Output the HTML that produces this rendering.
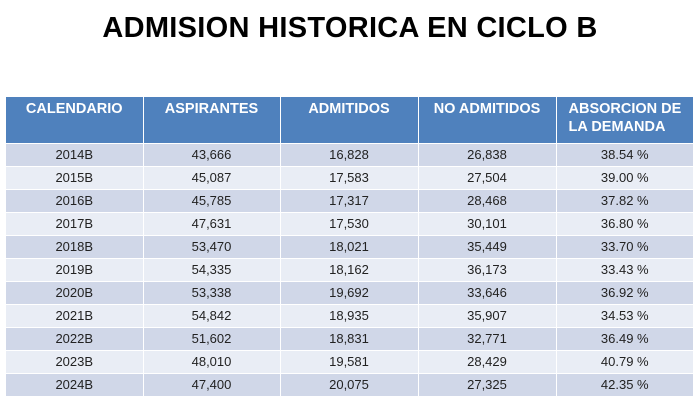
<!DOCTYPE html>
<html><head><meta charset="utf-8"><style>
body{margin:0;width:700px;height:410px;background:#fff;font-family:"Liberation Sans",sans-serif;position:relative;overflow:hidden}
h1{position:absolute;top:12px;left:0;width:700px;text-align:center;margin:0;font-size:29px;font-weight:bold;color:#000;letter-spacing:0.3px}
table{position:absolute;left:6px;top:97px;border-collapse:collapse;width:687px;table-layout:fixed}
th{box-sizing:border-box;background:#4f81bd;color:#fff;font-size:14.5px;font-weight:bold;height:46px;vertical-align:top;padding:3px 0 0 0;text-align:center;border-right:1.5px solid #fff;line-height:18px}
th:last-child{text-align:left;padding-left:12px;border-right:none}
tbody tr{height:23px}
td{box-sizing:border-box;height:23px;padding:0;font-size:13px;line-height:20px;color:#222;text-align:center;border-right:1.5px solid #fff;border-top:1px solid #fff}
td:last-child{border-right:none}
tr:nth-child(odd) td{background:#d0d7e8}
tr:nth-child(even) td{background:#e9edf5}
</style></head><body>
<h1>ADMISION HISTORICA EN CICLO B</h1>
<table>
<colgroup><col style="width:137px"><col style="width:137px"><col style="width:138px"><col style="width:138px"><col style="width:137px"></colgroup>
<thead><tr><th>CALENDARIO</th><th>ASPIRANTES</th><th>ADMITIDOS</th><th>NO ADMITIDOS</th><th>ABSORCION DE<br>LA DEMANDA</th></tr></thead>
<tbody>
<tr><td>2014B</td><td>43,666</td><td>16,828</td><td>26,838</td><td>38.54 %</td></tr>
<tr><td>2015B</td><td>45,087</td><td>17,583</td><td>27,504</td><td>39.00 %</td></tr>
<tr><td>2016B</td><td>45,785</td><td>17,317</td><td>28,468</td><td>37.82 %</td></tr>
<tr><td>2017B</td><td>47,631</td><td>17,530</td><td>30,101</td><td>36.80 %</td></tr>
<tr><td>2018B</td><td>53,470</td><td>18,021</td><td>35,449</td><td>33.70 %</td></tr>
<tr><td>2019B</td><td>54,335</td><td>18,162</td><td>36,173</td><td>33.43 %</td></tr>
<tr><td>2020B</td><td>53,338</td><td>19,692</td><td>33,646</td><td>36.92 %</td></tr>
<tr><td>2021B</td><td>54,842</td><td>18,935</td><td>35,907</td><td>34.53 %</td></tr>
<tr><td>2022B</td><td>51,602</td><td>18,831</td><td>32,771</td><td>36.49 %</td></tr>
<tr><td>2023B</td><td>48,010</td><td>19,581</td><td>28,429</td><td>40.79 %</td></tr>
<tr><td>2024B</td><td>47,400</td><td>20,075</td><td>27,325</td><td>42.35 %</td></tr>
</tbody></table>
</body></html>
